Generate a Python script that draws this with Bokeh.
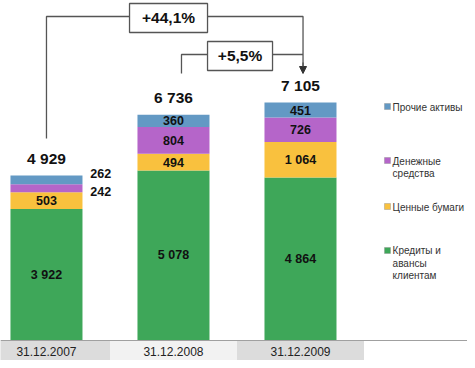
from bokeh.plotting import figure
from bokeh.models import Range1d, FixedTicker, ColumnDataSource, Arrow, NormalHead
from bokeh.core.properties import value
from bokeh.embed import file_html
from bokeh.resources import INLINE

# ---- data ----
dates = ["31.12.2007", "31.12.2008", "31.12.2009"]
loans = [3922, 5078, 4864]
securities = [503, 494, 1064]
cash = [242, 804, 726]
other = [262, 360, 451]
totals = [4929, 6736, 7105]
growth_labels = ["+44,1%", "+5,5%"]
series_names = ["Кредиты и\nавансы\nклиентам", "Ценные бумаги", "Денежные\nсредства", "Прочие активы"]

colors = ["#3ea759", "#f9c13e", "#b565c9", "#6399c4"]
FONT = "Liberation Sans"

def fmt(v):
    return f"{v:,}".replace(",", " ")

x = list(range(len(dates)))

PX = 0.0335  # pixels per unit (layout)
p = figure(width=467, height=360, output_backend="svg", toolbar_location=None,
           x_range=Range1d(-0.362, 3.315), y_range=Range1d(-20 / PX, 340 / PX),
           min_border=0, outline_line_color=None)
p.grid.visible = False
p.yaxis.visible = False
p.background_fill_color = "white"

# category band under the axis
band_cols = ["#dcdcdc", "#f2f2f2", "#dcdcdc"]
p.quad(left=[i - 0.5 for i in x], right=[i + 0.5 for i in x], bottom=-20 / PX, top=0,
       fill_color=band_cols, line_color=None)

src = ColumnDataSource(dict(x=x, loans=loans, securities=securities, cash=cash, other=other))
stack_keys = ["loans", "securities", "cash", "other"]
rends = p.vbar_stack(stack_keys, x="x", width=0.567, color=colors, line_color=None, source=src)

# segment labels
seg_vals = [loans, securities, cash, other]
lx, ly, lt = [], [], []
ox, oy, ot, oyoff = [], [], [], []
for i in x:
    base = 0
    for k, vals in enumerate(seg_vals):
        v = vals[i]
        mid = base + v / 2
        if i == 0 and k >= 2:
            ox.append(i + 0.345); oy.append(mid); ot.append(fmt(v))
            oyoff.append(-6 if k == 3 else 3)
        else:
            lx.append(i); ly.append(mid); lt.append(fmt(v))
        base += v
p.text(x=lx, y=ly, text=lt, text_align="center", text_baseline="middle",
       text_font=value(FONT), text_font_style="bold", text_font_size="12.5px", text_color="#111")
p.text(x=ox, y=oy, text=ot, y_offset=oyoff, text_align="left", text_baseline="middle",
       text_font=value(FONT), text_font_style="bold", text_font_size="12.5px", text_color="#111")

# totals
p.text(x=x, y=totals, text=[fmt(t) for t in totals], y_offset=-17, text_align="center",
       text_baseline="middle", text_font=value(FONT), text_font_style="bold",
       text_font_size="15.5px", text_color="#111")

# growth brackets
lc = "#555555"
p.multi_line(xs=[[0, 0, 2.02, 2.02], [1.063, 1.063, 2.02]],
             ys=[[6030, 9672, 9672, 8150], [7970, 8537, 8537]], line_color=lc, line_width=1.3)
p.add_layout(Arrow(end=NormalHead(size=7, fill_color="#333", line_color="#333"),
                   x_start=2.02, y_start=8300, x_end=2.02, y_end=7970,
                   line_color=lc, line_width=1.3))
p.rect(x=[0.961, 1.524], y=[9627, 8493], width=[78, 65], height=[29, 29],
       width_units="screen", height_units="screen", fill_color="white",
       line_color=lc, line_width=1.3)
p.text(x=[0.961, 1.524], y=[9627, 8493], text=growth_labels, text_align="center",
       text_baseline="middle", text_font=value(FONT), text_font_style="bold",
       text_font_size="15.5px", text_color="#111")

# x axis at zero
ax = p.xaxis[0]
ax.fixed_location = 0
ax.ticker = FixedTicker(ticks=x)
ax.major_label_overrides = {i: d for i, d in zip(x, dates)}
ax.major_tick_line_color = None
ax.minor_tick_line_color = None
ax.axis_line_color = "#a0a0a0"
ax.major_label_standoff = 0
ax.major_label_text_font = FONT
ax.major_label_text_font_size = "12px"
ax.major_label_text_color = "#222"

# legend (drawn as squares + text)
leg_order = [3, 2, 1, 0]
leg_y = [6985, 5373, 4000, 2687]
p.scatter(x=[2.685] * 4, y=leg_y, marker="square", size=6,
          fill_color=[colors[k] for k in leg_order], line_color="#888", line_width=0.4)
p.text(x=[2.725] * 4, y=leg_y, text=[series_names[k] for k in leg_order], y_offset=-5,
       text_align="left", text_baseline="top", text_font=value(FONT),
       text_font_size="10px", text_color="#333", text_line_height=1.1)

open("out.html", "w").write(file_html(p, INLINE))
